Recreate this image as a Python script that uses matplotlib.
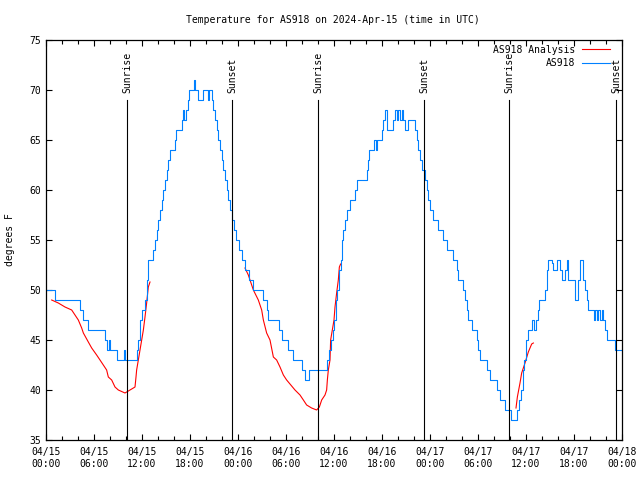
import matplotlib
matplotlib.use("Agg")
import matplotlib.pyplot as plt
from matplotlib.ticker import MultipleLocator, FixedLocator

# ---- data (hours since 04/15 00:00 UTC, degrees F) ----
obs_hours = [0.0, 1.125, 4.25, 4.67, 5.29, 7.375, 7.58, 7.875, 8.0, 8.83, 9.79, 9.875,
             11.33, 11.54, 11.75, 11.96, 12.375, 12.58, 12.67, 12.79, 13.42, 13.625, 13.83,
             14.04, 14.25, 14.46, 14.67, 14.875, 15.08, 15.29, 15.5, 16.125, 16.25, 16.96,
             17.08, 17.3, 17.5, 17.7, 17.9, 18.5, 18.67, 19.04, 19.67, 20.2, 20.4, 20.7,
             20.92, 21.125, 21.33, 21.54, 21.75, 21.96, 22.17, 22.375, 22.58, 22.79, 23.0,
             23.29, 23.5, 23.75, 24.17, 24.54, 24.92, 25.42, 25.83, 27.08, 27.58, 27.79,
             29.17, 29.46, 30.21, 30.83, 31.96, 32.42, 32.92, 35.17, 35.42, 35.625, 35.83,
             36.04, 36.25, 36.42, 36.58, 36.83, 36.96, 37.17, 37.375, 37.58, 38.0, 38.625,
             38.83, 40.08, 40.21, 40.375, 41.04, 41.2, 41.42, 41.96, 42.17, 42.375, 42.58,
             43.33, 43.58, 43.83, 44.0, 44.25, 44.46, 44.67, 44.875, 45.29, 46.125, 46.33,
             46.54, 46.75, 46.96, 47.375, 47.58, 47.79, 48.0, 48.42, 49.04, 49.58, 50.08,
             50.92, 51.33, 51.54, 52.17, 52.375, 52.58, 52.79, 53.21, 53.83, 54.04, 54.25,
             55.17, 55.5, 56.42, 56.75, 57.375, 58.125, 58.92, 59.17, 59.375, 59.58, 59.79,
             60.0, 60.21, 60.71, 61.0, 61.25, 61.46, 61.67, 62.375, 62.58, 62.79, 63.21,
             63.42, 63.83, 64.25, 64.46, 64.875, 65.08, 65.29, 66.125, 66.54, 66.75, 67.17,
             67.375, 67.58, 67.79, 68.5, 68.625, 68.83, 69.04, 69.25, 69.46, 69.67, 69.875,
             70.08, 71.125, 72.0]
obs_temps = [50, 49, 48, 47, 46, 45, 44, 45, 44, 43, 44, 43,
             44, 45, 47, 48, 49, 50, 51, 53, 54, 55, 56,
             57, 58, 59, 60, 61, 62, 63, 64, 65, 66, 67,
             68, 67, 68, 69, 70, 71, 70, 69, 70, 69, 70, 69,
             68, 67, 66, 65, 64, 63, 62, 61, 60, 59, 58,
             57, 56, 55, 54, 53, 52, 51, 50, 49, 48, 47,
             46, 45, 44, 43, 42, 41, 42, 43, 44, 45, 46,
             47, 49, 50, 52, 53, 55, 56, 57, 58, 59, 60,
             61, 62, 63, 64, 65, 64, 65, 66, 67, 68, 66,
             67, 68, 67, 68, 67, 68, 67, 66, 67, 66, 65,
             64, 63, 62, 61, 60, 59, 58, 57, 56, 55, 54,
             53, 52, 51, 50, 49, 48, 47, 46, 45, 44, 43,
             42, 41, 40, 39, 38, 37, 38, 39, 40, 42, 43,
             45, 46, 47, 46, 47, 48, 49, 50, 52, 53, 52.7,
             52, 53, 52, 51, 52, 53, 51, 49, 51, 53, 51,
             50, 49, 48, 47, 48, 47, 48, 47, 48, 47, 46,
             45, 44, 44]

ana_hours_1 = [0.71, 1.54, 2.375, 3.21, 3.625, 4.04, 4.46, 4.67, 5.29, 5.71, 6.33, 6.75,
               7.58, 7.79, 8.21, 8.625, 9.04, 9.875, 10.5, 10.92, 11.125, 11.25, 11.33,
               11.54, 11.75, 11.96, 12.17, 12.375, 12.58, 12.79, 13.0]
ana_temps_1 = [49.0, 48.7, 48.3, 48.0, 47.5, 47.0, 46.2, 45.7, 44.8, 44.2, 43.5, 43.0,
               42.0, 41.3, 41.0, 40.3, 40.0, 39.7, 40.0, 40.2, 40.3, 41.3, 42.0,
               43.0, 44.0, 45.0, 46.0, 47.3, 48.7, 50.3, 50.8]
ana_hours_2 = [24.875, 25.29, 25.5, 25.92, 26.54, 26.96, 27.17, 27.58, 28.0, 28.42, 28.83,
               29.25, 29.67, 30.08, 31.125, 31.75, 32.17, 32.58, 33.2, 33.83, 34.17, 34.46,
               34.875, 35.08, 35.17, 35.29, 35.5, 35.58, 36.0, 36.125, 36.33, 36.54, 36.67,
               36.83]
ana_temps_2 = [52.2, 51.5, 51.0, 50.0, 49.0, 48.0, 47.0, 45.7, 45.0, 43.3, 43.0,
               42.3, 41.5, 41.0, 40.0, 39.5, 39.0, 38.5, 38.2, 38.0, 38.3, 39.0,
               39.5, 40.0, 41.0, 42.0, 43.0, 45.0, 47.0, 48.3, 49.7, 51.0, 52.3,
               52.6]
ana_hours_3 = [58.75, 58.92, 59.25, 59.46, 59.875, 60.29, 60.71, 60.92]
ana_temps_3 = [38.2, 39.3, 40.7, 41.7, 42.7, 43.8, 44.6, 44.7]

sun_hours = [10.15, 23.3, 34.05, 47.3, 57.9, 71.3]
sun_labels = ["Sunrise", "Sunset", "Sunrise", "Sunset", "Sunrise", "Sunset"]

xtick_hours = [0, 6, 12, 18, 24, 30, 36, 42, 48, 54, 60, 66, 72]
xtick_labels = ["04/15\n00:00", "04/15\n06:00", "04/15\n12:00", "04/15\n18:00",
                "04/16\n00:00", "04/16\n06:00", "04/16\n12:00", "04/16\n18:00",
                "04/17\n00:00", "04/17\n06:00", "04/17\n12:00", "04/17\n18:00",
                "04/18\n00:00"]

title = "Temperature for AS918 on 2024-Apr-15 (time in UTC)"
ylabel = "degrees F"
legend_labels = ["AS918 Analysis", "AS918"]
RED = "#ff0000"
BLUE = "#0080ff"

plt.rcParams['font.family'] = ['DejaVu Sans Mono']
FS = 7
LW = 0.8

fig = plt.figure(figsize=(6.4, 4.8), dpi=100)
L, R, T, B = 46, 622, 40, 440
ax = fig.add_axes([L / 640, 1 - B / 480, (R - L) / 640, (B - T) / 480])

ax.plot(ana_hours_1, ana_temps_1, color=RED, lw=LW)
ax.plot(ana_hours_2, ana_temps_2, color=RED, lw=LW)
ax.plot(ana_hours_3, ana_temps_3, color=RED, lw=LW)
ax.plot(obs_hours, obs_temps, color=BLUE, lw=LW, drawstyle='steps-post')

for h, lab in zip(sun_hours, sun_labels):
    ax.plot([h, h], [35, 69], color='black', lw=LW)
    ax.text(h, 69.7, lab, rotation=90, ha='center', va='bottom', fontsize=FS)

ax.set_xlim(0, 72)
ax.set_ylim(35, 75)
ax.xaxis.set_major_locator(FixedLocator(xtick_hours))
ax.set_xticklabels(xtick_labels)
ax.xaxis.set_minor_locator(MultipleLocator(2))
ax.yaxis.set_major_locator(MultipleLocator(5))
ax.tick_params(axis='both', which='both', direction='in', top=True, right=True,
               labelsize=FS, width=0.8)
ax.tick_params(axis='both', which='major', length=4)
ax.tick_params(axis='x', which='minor', length=3)
ax.tick_params(axis='x', which='major', pad=5)
for s in ax.spines.values():
    s.set_linewidth(0.9)

fig.text(333 / 640, 1 - 20 / 480, title, ha='center', va='center', fontsize=FS)
fig.text(10 / 640, 0.5, ylabel, rotation=90, ha='center', va='center', fontsize=FS)

# legend (gnuplot style, no frame)
ax.text(0.918, 0.975, legend_labels[0], transform=ax.transAxes, ha='right', va='center', fontsize=FS)
ax.plot([0.931, 0.979], [0.977, 0.977], transform=ax.transAxes, color=RED, lw=LW)
ax.text(0.918, 0.9435, legend_labels[1], transform=ax.transAxes, ha='right', va='center', fontsize=FS)
ax.plot([0.931, 0.979], [0.9435, 0.9435], transform=ax.transAxes, color=BLUE, lw=LW)

fig.savefig("out.png", dpi=100)
